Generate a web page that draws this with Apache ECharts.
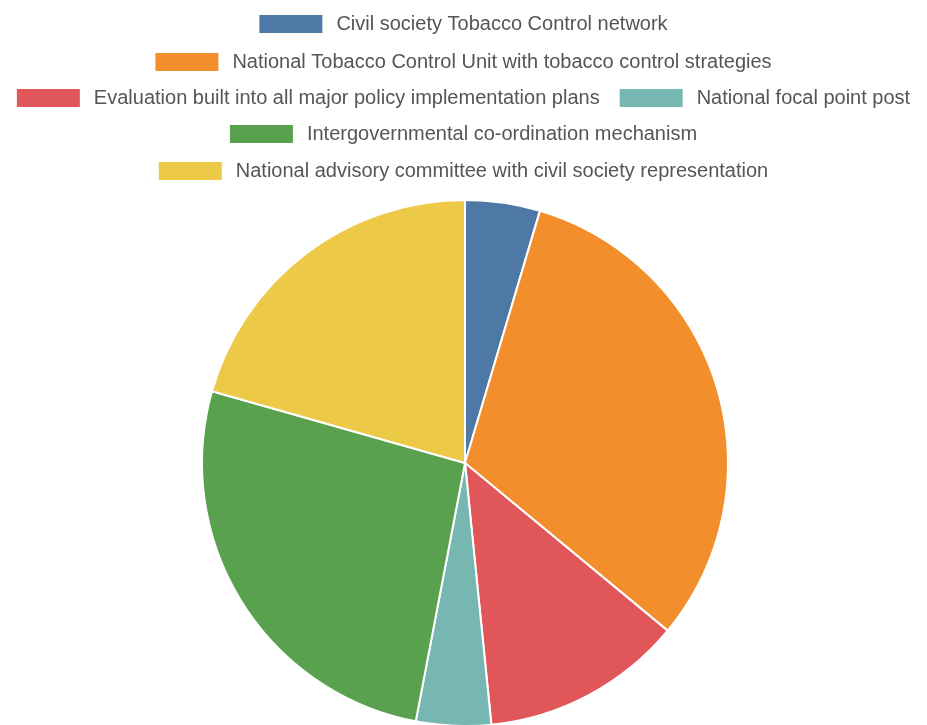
<!DOCTYPE html>
<html><head><meta charset="utf-8">
<script src="https://cdn.jsdelivr.net/npm/echarts@6/dist/echarts.min.js"></script>
<style>html,body{margin:0;padding:0;background:#fff}#c{width:927px;height:725px}</style>
</head><body><div id="c"></div>
<script>
const categories = [
  "Civil society Tobacco Control network",
  "National Tobacco Control Unit with tobacco control strategies",
  "Evaluation built into all major policy implementation plans",
  "National focal point post",
  "Intergovernmental co-ordination mechanism",
  "National advisory committee with civil society representation"
];
const values = [4.6, 31.4, 12.4, 4.6, 26.4, 20.6];
const colors = ["#4e79a7", "#f28e2b", "#e15759", "#76b7b2", "#59a14f", "#edc948"];
const legendRows = [[0], [1], [2, 3], [4], [5]];
const legendRowCenters = [24, 62, 98, 134, 171];

const chart = echarts.init(document.getElementById('c'));
chart.setOption({
  animation: false,
  color: colors,
  legend: legendRows.map((row, r) => ({
    top: legendRowCenters[r] - 10,
    left: 'center',
    padding: 0,
    itemWidth: 63,
    itemHeight: 18,
    itemGap: 20,
    icon: 'rect',
    selectedMode: false,
    itemStyle: { borderWidth: 0, borderColor: 'transparent' },
    textStyle: { fontSize: 20, color: '#555', fontFamily: 'Liberation Sans, Arial, sans-serif', padding: [0, 0, 0, 9] },
    data: row.map(i => categories[i])
  })),
  series: [{
    type: 'pie',
    center: [465, 463],
    radius: 263,
    startAngle: 90,
    clockwise: true,
    label: { show: false },
    labelLine: { show: false },
    itemStyle: { borderColor: '#fff', borderWidth: 2 },
    data: categories.map((n, i) => ({ name: n, value: values[i] }))
  }]
});
</script></body></html>
